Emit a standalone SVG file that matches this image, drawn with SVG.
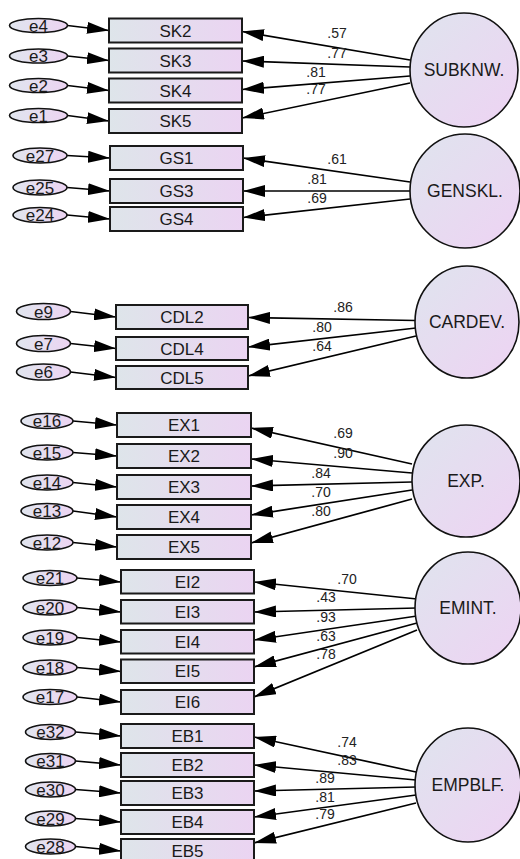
<svg xmlns="http://www.w3.org/2000/svg" width="520" height="859" viewBox="0 0 520 859">
<defs>
<linearGradient id="gb" x1="0" y1="0" x2="1" y2="0"><stop offset="0" stop-color="#dee5ea"/><stop offset="1" stop-color="#ebd4f2"/></linearGradient>
<linearGradient id="gc" x1="0" y1="0" x2="1" y2="1"><stop offset="0" stop-color="#dfe4ee"/><stop offset="1" stop-color="#eed3f3"/></linearGradient>
<linearGradient id="ge" x1="0" y1="0" x2="1" y2="0"><stop offset="0" stop-color="#e0e5ee"/><stop offset="1" stop-color="#ecd4f2"/></linearGradient>
<marker id="ah" markerUnits="userSpaceOnUse" markerWidth="22" markerHeight="12" refX="22" refY="6" orient="auto" viewBox="0 0 22 12"><path d="M0,0 L22,6 L0,12 z" fill="#000"/></marker>
<style>
.box{fill:url(#gb);stroke:#1a1a1a;stroke-width:2}
.lat{fill:url(#gc);stroke:#111;stroke-width:1.6}
.err{fill:url(#ge);stroke:#111;stroke-width:1.6}
.t{font-family:"Liberation Sans",Arial,sans-serif;font-size:17px;fill:#1a1a1a;text-anchor:middle}
.lt{font-family:"Liberation Sans",Arial,sans-serif;font-size:17.5px;fill:#1a1a1a;text-anchor:middle}
.w{font-family:"Liberation Sans",Arial,sans-serif;font-size:14px;fill:#222;text-anchor:middle}
.c line{stroke:#000;stroke-width:1.7;marker-end:url(#ah)}
</style>
</defs>
<rect width="520" height="859" fill="#fff"/>

<g id="connectors" class="c">
<!-- block 1 -->
<line x1="67.5" y1="25.5" x2="109" y2="30.5"/>
<line x1="67.5" y1="56" x2="109" y2="60.5"/>
<line x1="67.5" y1="85.5" x2="109" y2="90.5"/>
<line x1="67.5" y1="115.5" x2="109" y2="121"/>
<line x1="410" y1="60" x2="242" y2="31.5"/>
<line x1="410" y1="67" x2="242" y2="61"/>
<line x1="410" y1="76" x2="242" y2="89.5"/>
<line x1="410" y1="83" x2="242" y2="118"/>
<!-- block 2 -->
<line x1="67" y1="155.5" x2="110" y2="158"/>
<line x1="67" y1="187.5" x2="110" y2="191"/>
<line x1="67" y1="215" x2="110" y2="219"/>
<line x1="410" y1="182" x2="243" y2="158"/>
<line x1="410" y1="191" x2="243" y2="191"/>
<line x1="410" y1="199" x2="243" y2="217.5"/>
<!-- block 3 -->
<line x1="70.5" y1="311.5" x2="116" y2="317"/>
<line x1="70.5" y1="343.5" x2="116" y2="348.5"/>
<line x1="70.5" y1="372" x2="116" y2="377.5"/>
<line x1="416" y1="320.5" x2="248" y2="317.5"/>
<line x1="416" y1="328" x2="248" y2="347"/>
<line x1="416" y1="336" x2="248" y2="376"/>
<!-- block 4 -->
<line x1="73" y1="421" x2="117" y2="425"/>
<line x1="73" y1="452.5" x2="117" y2="456"/>
<line x1="73" y1="482.5" x2="117" y2="487"/>
<line x1="73" y1="511" x2="117" y2="517"/>
<line x1="73" y1="542.5" x2="117" y2="547"/>
<line x1="412" y1="464" x2="251" y2="428"/>
<line x1="412" y1="473" x2="251" y2="459"/>
<line x1="412" y1="482" x2="251" y2="486"/>
<line x1="412" y1="490" x2="251" y2="515"/>
<line x1="412" y1="499" x2="251" y2="543"/>
<!-- block 5 -->
<line x1="77" y1="578" x2="121" y2="582"/>
<line x1="77" y1="607.5" x2="121" y2="612"/>
<line x1="77" y1="637.5" x2="121" y2="642"/>
<line x1="77" y1="667.5" x2="121" y2="671.5"/>
<line x1="77" y1="697" x2="121" y2="702"/>
<line x1="417" y1="599" x2="254" y2="582"/>
<line x1="417" y1="608" x2="254" y2="612"/>
<line x1="417" y1="616" x2="254" y2="640"/>
<line x1="417" y1="623" x2="254" y2="667"/>
<line x1="417" y1="630" x2="254" y2="697"/>
<!-- block 6 -->
<line x1="75.5" y1="732" x2="121" y2="736"/>
<line x1="75.5" y1="761" x2="121" y2="765"/>
<line x1="75.5" y1="789.5" x2="121" y2="793"/>
<line x1="75.5" y1="818.5" x2="121" y2="822"/>
<line x1="75.5" y1="846.5" x2="121" y2="851"/>
<line x1="416" y1="772" x2="254" y2="737"/>
<line x1="416" y1="780" x2="254" y2="765"/>
<line x1="416" y1="787" x2="254" y2="791"/>
<line x1="416" y1="795" x2="254" y2="817"/>
<line x1="416" y1="803" x2="254" y2="843"/>
</g>

<g id="weights">
<text class="w" x="337" y="38">.57</text>
<text class="w" x="337" y="58">.77</text>
<text class="w" x="316" y="77">.81</text>
<text class="w" x="316" y="94">.77</text>
<text class="w" x="337" y="164">.61</text>
<text class="w" x="317" y="184">.81</text>
<text class="w" x="317" y="203">.69</text>
<text class="w" x="343" y="312">.86</text>
<text class="w" x="322" y="332">.80</text>
<text class="w" x="322" y="351">.64</text>
<text class="w" x="343" y="438">.69</text>
<text class="w" x="343" y="458">.90</text>
<text class="w" x="321" y="478">.84</text>
<text class="w" x="321" y="497">.70</text>
<text class="w" x="321" y="516">.80</text>
<text class="w" x="347" y="584">.70</text>
<text class="w" x="326" y="602">.43</text>
<text class="w" x="326" y="622">.93</text>
<text class="w" x="326" y="641">.63</text>
<text class="w" x="326" y="659">.78</text>
<text class="w" x="347" y="747">.74</text>
<text class="w" x="347" y="765">.83</text>
<text class="w" x="325" y="783">.89</text>
<text class="w" x="325" y="802">.81</text>
<text class="w" x="325" y="819">.79</text>
</g>

<!-- Block 1 -->
<g id="e4"><ellipse class="err" cx="38.5" cy="25.5" rx="29" ry="7"/><text class="t" x="38.5" y="31.5">e4</text></g>
<g id="e3"><ellipse class="err" cx="38.5" cy="56" rx="29" ry="7"/><text class="t" x="38.5" y="62">e3</text></g>
<g id="e2"><ellipse class="err" cx="38.5" cy="85.5" rx="29" ry="7"/><text class="t" x="38.5" y="91.5">e2</text></g>
<g id="e1"><ellipse class="err" cx="38.5" cy="115.5" rx="29" ry="7"/><text class="t" x="38.5" y="121.5">e1</text></g>
<g id="SK2"><rect class="box" x="109" y="18.5" width="133" height="24"/><text class="t" x="175.5" y="36.5">SK2</text></g>
<g id="SK3"><rect class="box" x="109" y="48.5" width="133" height="24"/><text class="t" x="175.5" y="66.5">SK3</text></g>
<g id="SK4"><rect class="box" x="109" y="78.5" width="133" height="24"/><text class="t" x="175.5" y="96.5">SK4</text></g>
<g id="SK5"><rect class="box" x="109" y="109" width="133" height="24"/><text class="t" x="175.5" y="127">SK5</text></g>
<g id="SUBKNW"><ellipse class="lat" cx="464" cy="70" rx="54" ry="57"/><text class="lt" x="464" y="76">SUBKNW.</text></g>

<!-- Block 2 -->
<g id="e27"><ellipse class="err" cx="40" cy="155.5" rx="27" ry="7.5"/><text class="t" x="40" y="161.5">e27</text></g>
<g id="e25"><ellipse class="err" cx="40" cy="187.5" rx="27" ry="7.5"/><text class="t" x="40" y="193.5">e25</text></g>
<g id="e24"><ellipse class="err" cx="40" cy="215" rx="27" ry="7.5"/><text class="t" x="40" y="221">e24</text></g>
<g id="GS1"><rect class="box" x="110" y="146" width="133" height="24"/><text class="t" x="176.5" y="164">GS1</text></g>
<g id="GS3"><rect class="box" x="110" y="179" width="133" height="24"/><text class="t" x="176.5" y="197">GS3</text></g>
<g id="GS4"><rect class="box" x="110" y="207" width="133" height="24"/><text class="t" x="176.5" y="225">GS4</text></g>
<g id="GENSKL"><ellipse class="lat" cx="465" cy="191" rx="55" ry="57"/><text class="lt" x="465" y="197">GENSKL.</text></g>

<!-- Block 3 -->
<g id="e9"><ellipse class="err" cx="43.5" cy="311.5" rx="27" ry="8"/><text class="t" x="43.5" y="317.5">e9</text></g>
<g id="e7"><ellipse class="err" cx="43.5" cy="343.5" rx="27" ry="8"/><text class="t" x="43.5" y="349.5">e7</text></g>
<g id="e6"><ellipse class="err" cx="43.5" cy="372" rx="27" ry="8"/><text class="t" x="43.5" y="378">e6</text></g>
<g id="CDL2"><rect class="box" x="116" y="305" width="132" height="24"/><text class="t" x="182" y="323">CDL2</text></g>
<g id="CDL4"><rect class="box" x="116" y="337" width="132" height="23"/><text class="t" x="182" y="354.5">CDL4</text></g>
<g id="CDL5"><rect class="box" x="116" y="366" width="132" height="23"/><text class="t" x="182" y="383.5">CDL5</text></g>
<g id="CARDEV"><ellipse class="lat" cx="467" cy="322" rx="52" ry="56"/><text class="lt" x="467" y="328">CARDEV.</text></g>

<!-- Block 4 -->
<g id="e16"><ellipse class="err" cx="47" cy="421" rx="26" ry="7.5"/><text class="t" x="47" y="427">e16</text></g>
<g id="e15"><ellipse class="err" cx="47" cy="452.5" rx="26" ry="7.5"/><text class="t" x="47" y="458.5">e15</text></g>
<g id="e14"><ellipse class="err" cx="47" cy="482.5" rx="26" ry="7.5"/><text class="t" x="47" y="488.5">e14</text></g>
<g id="e13"><ellipse class="err" cx="47" cy="511" rx="26" ry="7.5"/><text class="t" x="47" y="517">e13</text></g>
<g id="e12"><ellipse class="err" cx="47" cy="542.5" rx="26" ry="7.5"/><text class="t" x="47" y="548.5">e12</text></g>
<g id="EX1"><rect class="box" x="117" y="413" width="134" height="24"/><text class="t" x="184" y="431">EX1</text></g>
<g id="EX2"><rect class="box" x="117" y="444" width="134" height="24"/><text class="t" x="184" y="462">EX2</text></g>
<g id="EX3"><rect class="box" x="117" y="475" width="134" height="24"/><text class="t" x="184" y="493">EX3</text></g>
<g id="EX4"><rect class="box" x="117" y="505" width="134" height="24"/><text class="t" x="184" y="523">EX4</text></g>
<g id="EX5"><rect class="box" x="117" y="535" width="134" height="24"/><text class="t" x="184" y="553">EX5</text></g>
<g id="EXP"><ellipse class="lat" cx="466" cy="481" rx="54" ry="56"/><text class="lt" x="466" y="487">EXP.</text></g>

<!-- Block 5 -->
<g id="e21"><ellipse class="err" cx="50" cy="578" rx="27" ry="7.5"/><text class="t" x="50" y="584">e21</text></g>
<g id="e20"><ellipse class="err" cx="50" cy="607.5" rx="27" ry="7.5"/><text class="t" x="50" y="613.5">e20</text></g>
<g id="e19"><ellipse class="err" cx="50" cy="637.5" rx="27" ry="7.5"/><text class="t" x="50" y="643.5">e19</text></g>
<g id="e18"><ellipse class="err" cx="50" cy="667.5" rx="27" ry="7.5"/><text class="t" x="50" y="673.5">e18</text></g>
<g id="e17"><ellipse class="err" cx="50" cy="697" rx="27" ry="7.5"/><text class="t" x="50" y="703">e17</text></g>
<g id="EI2"><rect class="box" x="121" y="570" width="133" height="23.5"/><text class="t" x="187.5" y="587.5">EI2</text></g>
<g id="EI3"><rect class="box" x="121" y="600" width="133" height="23.5"/><text class="t" x="187.5" y="617.5">EI3</text></g>
<g id="EI4"><rect class="box" x="121" y="630" width="133" height="23.5"/><text class="t" x="187.5" y="647.5">EI4</text></g>
<g id="EI5"><rect class="box" x="121" y="659.5" width="133" height="23.5"/><text class="t" x="187.5" y="677">EI5</text></g>
<g id="EI6"><rect class="box" x="121" y="690" width="133" height="24"/><text class="t" x="187.5" y="708">EI6</text></g>
<g id="EMINT"><ellipse class="lat" cx="468" cy="608" rx="53" ry="56"/><text class="lt" x="468" y="614">EMINT.</text></g>

<!-- Block 6 -->
<g id="e32"><ellipse class="err" cx="50.5" cy="732" rx="25" ry="7.5"/><text class="t" x="50.5" y="738">e32</text></g>
<g id="e31"><ellipse class="err" cx="50.5" cy="761" rx="25" ry="7.5"/><text class="t" x="50.5" y="767">e31</text></g>
<g id="e30"><ellipse class="err" cx="50.5" cy="789.5" rx="25" ry="7.5"/><text class="t" x="50.5" y="795.5">e30</text></g>
<g id="e29"><ellipse class="err" cx="50.5" cy="818.5" rx="25" ry="7.5"/><text class="t" x="50.5" y="824.5">e29</text></g>
<g id="e28"><ellipse class="err" cx="50.5" cy="846.5" rx="25" ry="7.5"/><text class="t" x="50.5" y="852.5">e28</text></g>
<g id="EB1"><rect class="box" x="121" y="724" width="133" height="24"/><text class="t" x="187.5" y="742">EB1</text></g>
<g id="EB2"><rect class="box" x="121" y="753" width="133" height="24"/><text class="t" x="187.5" y="771">EB2</text></g>
<g id="EB3"><rect class="box" x="121" y="781" width="133" height="24"/><text class="t" x="187.5" y="799">EB3</text></g>
<g id="EB4"><rect class="box" x="121" y="810" width="133" height="24"/><text class="t" x="187.5" y="828">EB4</text></g>
<g id="EB5"><rect class="box" x="121" y="839" width="133" height="24"/><text class="t" x="187.5" y="857">EB5</text></g>
<g id="EMPBLF"><ellipse class="lat" cx="468" cy="785" rx="53" ry="57"/><text class="lt" x="468" y="791">EMPBLF.</text></g>
</svg>
